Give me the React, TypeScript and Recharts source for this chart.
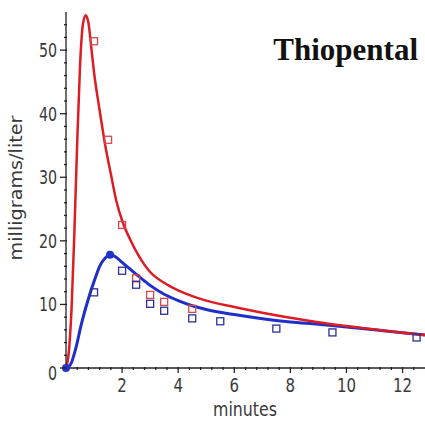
import React from "react";
import {
  ComposedChart,
  Line,
  Scatter,
  XAxis,
  YAxis,
  Customized,
} from "recharts";

// fitted curves
const time = [0, 0.1, 0.2, 0.3, 0.4, 0.5, 0.6, 0.7, 0.8, 0.9, 1.0, 1.2, 1.4, 1.6, 1.8, 2.0, 2.3, 2.6, 3.0, 3.5, 4.0, 4.5, 5.0, 6.0, 7.0, 8.0, 9.0, 10.0, 11.0, 12.0, 12.8];
const redCurve = [0, 2.5, 9.5, 21.5, 35.5, 47.5, 54, 55.5, 54.3, 50.5, 46.5, 40.5, 35, 30.5, 26.2, 23.2, 20.1, 17.6, 15.1, 13.4, 12.2, 11.3, 10.6, 9.6, 8.7, 7.9, 7.2, 6.6, 6.05, 5.55, 5.2];
const blueCurve = [0, 0.2, 0.9, 2.3, 4, 6, 7.8, 9.4, 10.9, 12.3, 13.6, 16, 17.3, 17.8, 17.4, 16.6, 15.5, 14.4, 13.0, 11.6, 10.6, 9.8, 9.2, 8.4, 7.75, 7.25, 6.88, 6.45, 6.0, 5.54, 5.2];

// measured samples
const redTimes = [1.0, 1.5, 2.0, 2.5, 3.0, 3.5, 4.5];
const redLevels = [51.4, 35.9, 22.5, 14.1, 11.5, 10.4, 9.3];
const blueTimes = [1.0, 2.0, 2.5, 3.0, 3.5, 4.5, 5.5, 7.5, 9.5, 12.5];
const blueLevels = [11.9, 15.3, 13.1, 10.1, 9.0, 7.8, 7.35, 6.2, 5.6, 4.8];

// filled markers (dose start, blue peak)
const dotTimes = [0, 1.57];
const dotLevels = [0, 17.8];

const xMajor = [2, 4, 6, 8, 10, 12];
const xTicks = [0.4, 0.8, 1.2, 1.6, 2, 2.4, 2.8, 3.2, 3.6, 4, 4.4, 4.8, 5.2, 5.6, 6, 6.4, 6.8, 7.2, 7.6, 8, 8.4, 8.8, 9.2, 9.6, 10, 10.4, 10.8, 11.2, 11.6, 12, 12.4];
const yMajor = [0, 10, 20, 30, 40, 50];
const yTicks = [0, 2, 4, 6, 8, 10, 12, 14, 16, 18, 20, 22, 24, 26, 28, 30, 32, 34, 36, 38, 40, 42, 44, 46, 48, 50, 52, 54];

const curveData = time.map((t, i) => ({ t, red: redCurve[i], blue: blueCurve[i] }));
const redPts = redTimes.map((t, i) => ({ t, v: redLevels[i] }));
const bluePts = blueTimes.map((t, i) => ({ t, v: blueLevels[i] }));
const dotPts = dotTimes.map((t, i) => ({ t, v: dotLevels[i] }));

const sansFont = "'DejaVu Sans', sans-serif";
const tickColor = "#3a3a3a";

const XTick = ({ x, y, payload }: any) => {
  const major = xMajor.includes(Math.round(payload.value * 10) / 10);
  return (
    <g>
      <line x1={x} x2={x} y1={y - 1} y2={y + (major ? 5 : 2)} stroke="#222" strokeWidth={1.3} />
      {major && (
        <text transform={`translate(${x},${y + 24}) scale(0.75,1)`} textAnchor="middle" fontSize={20} fontFamily={sansFont} fill={tickColor}>
          {payload.value}
        </text>
      )}
    </g>
  );
};

const YTick = ({ x, y, payload }: any) => {
  const major = yMajor.includes(payload.value);
  return (
    <g>
      <line x1={x - (major ? 6 : 2)} x2={x + 1} y1={y} y2={y} stroke="#222" strokeWidth={1.3} />
      {major && (
        <text transform={`translate(${x - 9},${y + (payload.value === 0 ? 12 : 7)}) scale(0.75,1)`} textAnchor="end" fontSize={19} fontFamily={sansFont} fill={tickColor}>
          {payload.value}
        </text>
      )}
    </g>
  );
};

const openSquare = (color: string) => (props: any) => (
  <rect x={props.cx - 3.5} y={props.cy - 3.5} width={7} height={7} fill="none" stroke={color} strokeWidth={1.3} />
);

const filledDot = (props: any) => <circle cx={props.cx} cy={props.cy} r={4} fill="#2233cc" />;

export default function App() {
  return (
    <div style={{ position: "absolute", left: 0, top: 0, width: 425, height: 421, background: "#fff" }}>
      <ComposedChart width={425} height={421} data={curveData} margin={{ top: 12, right: 0, bottom: 0, left: 0 }}>
        <XAxis
          dataKey="t"
          type="number"
          domain={[0, 12.8]}
          ticks={xTicks}
          interval={0}
          tickSize={0}
          tickMargin={0}
          tickLine={false}
          tick={<XTick />}
          axisLine={{ stroke: "#222", strokeWidth: 1.3 }}
          height={53}
          label={{
            content: () => (
              <text x={245} y={416} textAnchor="middle" fontSize={19} fontFamily={sansFont} fill={tickColor} textLength={64} lengthAdjust="spacingAndGlyphs">
                minutes
              </text>
            ),
          }}
        />
        <YAxis
          type="number"
          domain={[0, 56]}
          ticks={yTicks}
          interval={0}
          tickSize={0}
          tickMargin={0}
          tickLine={false}
          tick={<YTick />}
          axisLine={{ stroke: "#222", strokeWidth: 1.3 }}
          width={66}
          label={{
            content: () => (
              <text x={22} y={188} transform="rotate(-90 22 188)" textAnchor="middle" fontSize={18} fontFamily={sansFont} fill={tickColor} textLength={145} lengthAdjust="spacingAndGlyphs">
                milligrams/liter
              </text>
            ),
          }}
        />
        <Line dataKey="blue" type="monotone" stroke="#1f2fc8" strokeWidth={3} dot={false} isAnimationActive={false} />
        <Line dataKey="red" type="monotone" stroke="#dd1c24" strokeWidth={2.5} dot={false} isAnimationActive={false} />
        <Scatter data={redPts} dataKey="v" shape={openSquare("#d8474e")} isAnimationActive={false} />
        <Scatter data={bluePts} dataKey="v" shape={openSquare("#2c2f9a")} isAnimationActive={false} />
        <Scatter data={dotPts} dataKey="v" shape={filledDot} isAnimationActive={false} />
        <Customized
          component={() => (
            <text x={418} y={60} textAnchor="end" fontSize={31} fontWeight="bold" fontFamily="'Liberation Serif', 'Times New Roman', serif" fill="#111">
              Thiopental
            </text>
          )}
        />
      </ComposedChart>
    </div>
  );
}
